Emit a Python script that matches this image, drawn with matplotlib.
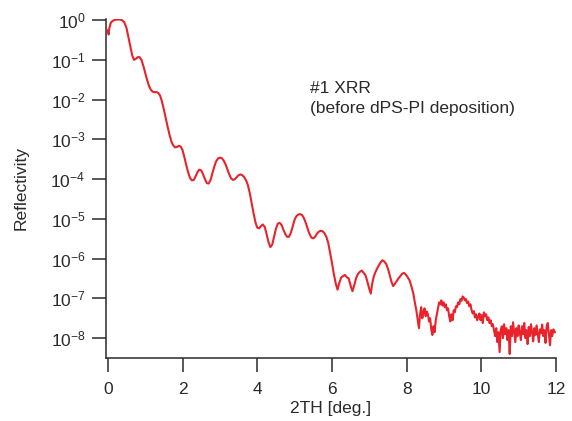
import matplotlib
matplotlib.use("Agg")
import matplotlib.pyplot as plt
import numpy as np

# 2theta (deg) and log10(reflectivity)
two_theta = [
    0.00, 0.02, 0.04, 0.08, 0.14, 0.20, 0.30, 0.38, 0.44, 0.50, 0.55, 0.60, 0.65, 0.70, 0.75,
    0.80, 0.85, 0.90, 0.95, 1.00, 1.05, 1.10, 1.15, 1.20, 1.25, 1.30, 1.35, 1.40, 1.45, 1.50,
    1.55, 1.60, 1.65, 1.70, 1.75, 1.80, 1.85, 1.90, 1.95, 2.00, 2.05, 2.10, 2.15, 2.20, 2.25,
    2.30, 2.35, 2.40, 2.45, 2.50, 2.55, 2.60, 2.65, 2.70, 2.75, 2.80, 2.85, 2.90, 2.95, 3.00,
    3.05, 3.10, 3.15, 3.20, 3.25, 3.30, 3.35, 3.40, 3.45, 3.50, 3.55, 3.60, 3.65, 3.70, 3.75,
    3.80, 3.85, 3.90, 3.95, 4.00, 4.05, 4.10, 4.15, 4.20, 4.25, 4.30, 4.35, 4.40, 4.45, 4.50,
    4.55, 4.60, 4.65, 4.70, 4.75, 4.80, 4.85, 4.90, 4.95, 5.00, 5.05, 5.10, 5.15, 5.20, 5.25,
    5.30, 5.35, 5.40, 5.45, 5.50, 5.55, 5.60, 5.65, 5.70, 5.75, 5.80, 5.85, 5.90, 5.95, 6.00,
    6.05, 6.10, 6.15, 6.20, 6.25, 6.30, 6.35, 6.40, 6.45, 6.50, 6.55, 6.60, 6.65, 6.70, 6.75,
    6.80, 6.85, 6.90, 6.95, 7.00, 7.04, 7.08, 7.12, 7.16, 7.20, 7.25, 7.30, 7.35, 7.40, 7.45,
    7.50, 7.55, 7.60, 7.64, 7.68, 7.73, 7.78, 7.83, 7.88, 7.93, 7.98, 8.03, 8.08, 8.13, 8.18,
    8.22, 8.26, 8.30, 8.33, 8.36, 8.39, 8.42, 8.45, 8.48, 8.51, 8.54, 8.57, 8.60, 8.63, 8.66,
    8.69, 8.72, 8.75, 8.78, 8.81, 8.84, 8.87, 8.90, 8.93, 8.96, 8.99, 9.02, 9.05, 9.08, 9.11,
    9.14, 9.17, 9.20, 9.23, 9.26, 9.29, 9.32, 9.35, 9.38, 9.41, 9.44, 9.47, 9.50, 9.53, 9.56,
    9.59, 9.62, 9.65, 9.68, 9.71, 9.74, 9.77, 9.80, 9.83, 9.86, 9.89, 9.92, 9.95, 9.98, 10.01,
    10.04, 10.07, 10.10, 10.13, 10.16, 10.19, 10.22, 10.25, 10.28, 10.31, 10.34, 10.37, 10.40, 10.43, 10.46,
    10.49, 10.52, 10.55, 10.58, 10.61, 10.64, 10.67, 10.70, 10.73, 10.76, 10.79, 10.82, 10.85, 10.88, 10.91,
    10.94, 10.97, 11.00, 11.03, 11.06, 11.09, 11.12, 11.15, 11.18, 11.21, 11.24, 11.27, 11.30, 11.33, 11.36,
    11.39, 11.42, 11.45, 11.48, 11.51, 11.54, 11.57, 11.60, 11.63, 11.66, 11.69, 11.72, 11.75, 11.78, 11.81,
    11.84, 11.87, 11.90, 11.93, 11.97,
]
log_reflectivity = [
    -0.25, -0.36, -0.20, -0.06, -0.01, 0.01, 0.02, 0.00, -0.05, -0.20, -0.42, -0.65, -0.88, -1.00, -0.97,
    -0.93, -0.93, -1.00, -1.15, -1.33, -1.50, -1.65, -1.75, -1.80, -1.81, -1.81, -1.83, -1.90, -2.05, -2.25,
    -2.47, -2.68, -2.88, -3.05, -3.15, -3.20, -3.19, -3.16, -3.18, -3.27, -3.45, -3.65, -3.83, -3.97, -4.03,
    -4.02, -3.93, -3.82, -3.76, -3.78, -3.88, -4.00, -4.10, -4.11, -4.02, -3.85, -3.68, -3.55, -3.48, -3.46,
    -3.47, -3.53, -3.62, -3.75, -3.88, -3.98, -4.02, -4.00, -3.95, -3.90, -3.88, -3.90, -3.95, -4.03, -4.15,
    -4.35, -4.60, -4.85, -5.08, -5.22, -5.24, -5.18, -5.14, -5.20, -5.38, -5.58, -5.71, -5.65, -5.45, -5.25,
    -5.12, -5.10, -5.15, -5.27, -5.38, -5.45, -5.45, -5.35, -5.18, -5.02, -4.93, -4.89, -4.88, -4.90, -4.98,
    -5.10, -5.25, -5.38, -5.47, -5.49, -5.45, -5.37, -5.32, -5.30, -5.31, -5.36, -5.45, -5.60, -5.85, -6.10,
    -6.38, -6.62, -6.78, -6.60, -6.47, -6.44, -6.41, -6.47, -6.50, -6.68, -6.82, -6.66, -6.48, -6.38, -6.33,
    -6.30, -6.36, -6.42, -6.58, -6.76, -6.88, -6.62, -6.45, -6.35, -6.27, -6.18, -6.10, -6.04, -6.07, -6.13,
    -6.25, -6.42, -6.60, -6.69, -6.64, -6.57, -6.50, -6.44, -6.38, -6.36, -6.40, -6.47, -6.55, -6.70, -6.88,
    -7.10, -7.30, -7.55, -7.75, -7.40, -7.22, -7.50, -7.35, -7.25, -7.45, -7.33, -7.40, -7.58, -7.50, -7.78,
    -7.92, -7.70, -7.85, -7.55, -7.40, -7.25, -7.10, -7.15, -7.05, -7.18, -7.10, -7.22, -7.15, -7.30, -7.25,
    -7.45, -7.58, -7.40, -7.55, -7.30, -7.35, -7.20, -7.22, -7.10, -7.15, -7.02, -7.06, -6.95, -6.98, -7.05,
    -7.02, -7.12, -7.08, -7.20, -7.15, -7.30, -7.38, -7.32, -7.48, -7.40, -7.55, -7.45, -7.38, -7.55, -7.42,
    -7.62, -7.35, -7.45, -7.40, -7.55, -7.48, -7.62, -7.55, -7.70, -7.65, -7.80, -7.95, -7.75, -8.10, -7.85,
    -8.35, -7.80, -7.70, -8.00, -7.65, -7.90, -7.75, -8.05, -7.80, -8.40, -7.70, -7.95, -7.60, -7.85, -8.10,
    -7.75, -7.95, -7.68, -7.85, -8.05, -7.70, -7.90, -7.62, -8.00, -7.80, -8.15, -7.72, -7.95, -7.65, -7.85,
    -8.08, -7.75, -7.92, -7.68, -7.90, -8.10, -7.78, -7.88, -7.66, -7.95, -7.80, -8.12, -7.70, -7.62, -7.90,
    -8.18, -7.80, -7.95, -7.78, -7.85,
]
x_ticks = [0, 2, 4, 6, 8, 10, 12]
y_decades = [0, -1, -2, -3, -4, -5, -6, -7, -8]
x_label = "2TH [deg.]"
y_label = "Reflectivity"
note_lines = ["#1 XRR", "(before dPS-PI deposition)"]

reflectivity = 10.0 ** np.array(log_reflectivity)

font = ["Liberation Sans", "DejaVu Sans"]
plt.rcParams["font.family"] = font
plt.rcParams["mathtext.fontset"] = "custom"
plt.rcParams["mathtext.rm"] = "Liberation Sans"
plt.rcParams["mathtext.it"] = "Liberation Sans"
plt.rcParams["mathtext.default"] = "regular"

ink = "#2a2a2a"
fig = plt.figure(figsize=(5.72, 4.21), dpi=100)
ax = fig.add_axes([106 / 572, 1 - 358 / 421, 450 / 572, 339 / 421])
ax.plot(two_theta, reflectivity, color="#e8232b", lw=1.5)
ax.set_yscale("log")
ax.set_xlim(-0.05, 12.0)
ax.set_ylim(10 ** -8.5, 10 ** 0.03)
ax.set_xticks(x_ticks)
ax.set_xticklabels([str(v) for v in x_ticks])
ax.set_yticks([10.0 ** d for d in y_decades])
ax.set_yticklabels([r"$10^{%s}$" % (str(d) if d >= 0 else "\u2212" + str(-d)) for d in y_decades])
ax.minorticks_off()
for s in ["top", "right"]:
    ax.spines[s].set_visible(False)
for s in ["left", "bottom"]:
    ax.spines[s].set_color(ink)
    ax.spines[s].set_linewidth(1.1)
ax.tick_params(axis="both", direction="out", length=9.8, width=1.1, color=ink,
               labelcolor=ink, labelsize=12.5)
ax.tick_params(axis="x", pad=7.5)
ax.tick_params(axis="y", pad=5)
ax.set_xlabel(x_label, fontsize=12.5, color=ink)
ax.set_ylabel(y_label, fontsize=12.5, color=ink)
ax.xaxis.set_label_coords(0.5, -0.126)
ax.yaxis.set_label_coords(-0.172, 0.5)
ax.text(0.453, 0.781, note_lines[0], transform=ax.transAxes, fontsize=12.5, color=ink,
        va="baseline", ha="left")
ax.text(0.453, 0.724, note_lines[1], transform=ax.transAxes, fontsize=12.5, color=ink,
        va="baseline", ha="left")

fig.savefig("out.png", dpi=100)
